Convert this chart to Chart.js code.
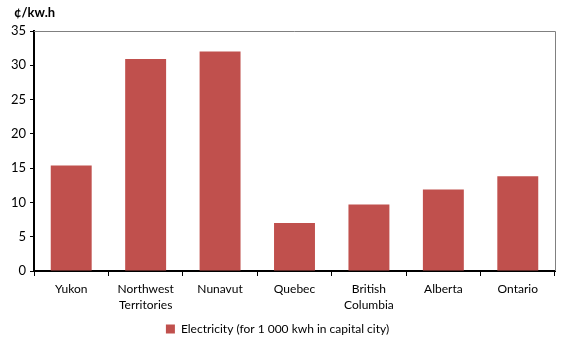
<!DOCTYPE html>
<html>
<head>
<meta charset="utf-8">
<script src="https://cdn.jsdelivr.net/npm/chart.js@4/dist/chart.umd.min.js"></script>
<style>
  body { margin: 0; background: #fff; }
  #wrap { width: 580px; height: 353px; }
</style>
</head>
<body>
<div id="wrap"><canvas id="bar-chart"></canvas></div>
<script>
// dữ liệu
const provinces = ["Yukon", ["Northwest", "Territories"], "Nunavut", "Quebec", ["British", "Columbia"], "Alberta", "Ontario"];
const prices = [15.4, 30.9, 32.0, 7.0, 9.7, 11.9, 13.8];
const seriesLabel = "Electricity (for 1 000 kwh in capital city)";
const unitLabel = "¢/kw.h";

const fontFamily = "Lato, 'Open Sans', sans-serif";

// khung xám ở trên và bên phải + nhãn đơn vị
const framePlugin = {
  id: "frame",
  afterDraw(chart) {
    const { ctx, chartArea } = chart;
    ctx.save();
    ctx.strokeStyle = "#808080";
    ctx.lineWidth = 1;
    ctx.beginPath();
    ctx.moveTo(chartArea.left, chartArea.top + 0.5);
    ctx.lineTo(chartArea.right + 0.5, chartArea.top + 0.5);
    ctx.lineTo(chartArea.right + 0.5, chartArea.bottom);
    ctx.stroke();
    ctx.fillStyle = "#000";
    ctx.font = "bold 13px " + fontFamily;
    ctx.textBaseline = "middle";
    ctx.fillText(unitLabel, 14, 13);
    ctx.restore();
  }
};

new Chart(document.getElementById("bar-chart"), {
  type: "bar",
  data: {
    labels: provinces,
    datasets: [{
      label: seriesLabel,
      data: prices,
      backgroundColor: "#C0504D",
      borderWidth: 0,
      barPercentage: 0.55,
      categoryPercentage: 1.0
    }]
  },
  options: {
    responsive: true,
    maintainAspectRatio: false,
    animation: false,
    layout: { padding: { left: 0, right: 25, top: 31, bottom: 8 } },
    scales: {
      x: {
        grid: { display: true, drawOnChartArea: false, drawTicks: true, tickLength: 5, color: "#000", lineWidth: 1, offset: true },
        border: { display: true, color: "#000", width: 2 },
        ticks: { color: "#000", font: { family: fontFamily, size: 12, lineHeight: 1.35 }, padding: 5, maxRotation: 0, autoSkip: false },
        afterFit(scale) { scale.height = 44; }
      },
      y: {
        min: 0,
        max: 35,
        ticks: { stepSize: 5, color: "#000", font: { family: fontFamily, size: 13 }, padding: 4 },
        grid: { display: true, drawOnChartArea: false, drawTicks: true, tickLength: 4, color: "#000", lineWidth: 1 },
        border: { display: true, color: "#000", width: 2 },
        afterFit(scale) { scale.width = 34; }
      }
    },
    plugins: {
      legend: {
        position: "bottom",
        labels: { boxWidth: 9, boxHeight: 9, color: "#000", font: { family: fontFamily, size: 12 }, padding: 8 }
      },
      tooltip: { enabled: false }
    }
  },
  plugins: [framePlugin]
});
</script>
</body>
</html>
